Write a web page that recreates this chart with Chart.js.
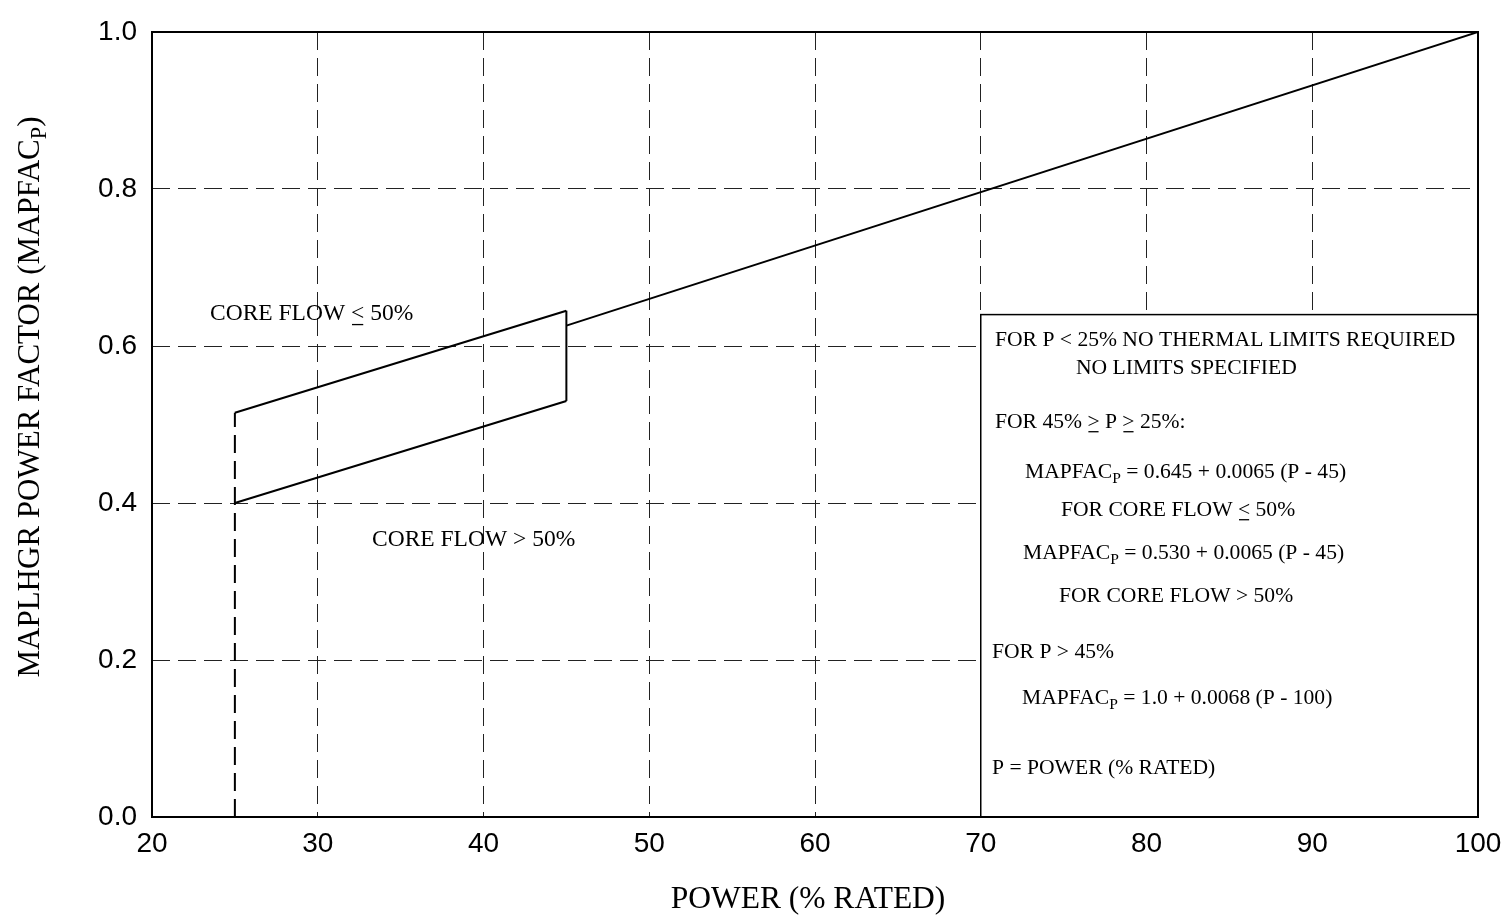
<!DOCTYPE html>
<html>
<head>
<meta charset="utf-8">
<title>MAPLHGR power factor</title>
<script src="https://cdn.jsdelivr.net/npm/chart.js@4.4.1/dist/chart.umd.min.js"></script>
<style>
  html, body { margin: 0; padding: 0; background: #fff; }
  #wrap { width: 1505px; height: 922px; position: relative; }
</style>
</head>
<body>
<div id="wrap"><canvas id="powerChart"></canvas></div>
<script>
// ========= DATA =================== //
const xTicks = [20, 30, 40, 50, 60, 70, 80, 90, 100];
const yTicks = [0.0, 0.2, 0.4, 0.6, 0.8, 1.0];

// core flow <= 50%, 25% .. 45% power
const lowFlowPower = [25, 45];
const lowFlowFactor = [0.515, 0.645];

// core flow > 50%, 25% .. 45% power
const highFlowPower = [25, 45];
const highFlowFactor = [0.40, 0.53];

// P > 45%
const highPower = [45, 100];
const highPowerFactor = [0.626, 1.0];

// step at 45%
const stepPower = [45, 45];
const stepFactor = [0.53, 0.645];

// dashed cutoff at 25%
const cutoffPower = [25, 25];
const cutoffFactor = [0.0, 0.515];

// note box corners
const boxPower = [70, 100];
const boxFactor = [0.0, 0.64];

const SERIF = '"Liberation Serif", "Times New Roman", serif';
const SANS = '"Liberation Sans", Arial, sans-serif';

const pts = (xs, ys) => xs.map((x, i) => ({ x: x, y: ys[i] }));

function lineSet(xs, ys, dash) {
  return {
    data: pts(xs, ys),
    showLine: true,
    borderColor: "#000",
    borderWidth: 2,
    borderDash: dash || [],
    pointRadius: 0,
    fill: false,
  };
}

// ========= TEXT HELPER =================== //
// runs: strings, or {t, sub:true} for subscript, {t, u:true} for underlined
function runWidth(ctx, runs, size) {
  let w = 0;
  runs.forEach((r) => {
    const o = typeof r === "string" ? { t: r } : r;
    ctx.font = (o.sub ? size * 0.72 : size) + "px " + SERIF;
    w += ctx.measureText(o.t).width;
  });
  return w;
}

function drawRuns(ctx, x, y, runs, size, align) {
  let cx = x;
  if (align === "center") cx = x - runWidth(ctx, runs, size) / 2;
  ctx.textBaseline = "middle";
  ctx.textAlign = "left";
  ctx.fillStyle = "#000";
  runs.forEach((r) => {
    const o = typeof r === "string" ? { t: r } : r;
    const s = o.sub ? size * 0.72 : size;
    ctx.font = s + "px " + SERIF;
    const dy = o.sub ? size * 0.3 : 0;
    ctx.fillText(o.t, cx, y + dy);
    const w = ctx.measureText(o.t).width;
    if (o.u) {
      ctx.beginPath();
      ctx.lineWidth = 1.3;
      ctx.strokeStyle = "#000";
      ctx.moveTo(cx + 1, y + size * 0.45);
      ctx.lineTo(cx + w - 1, y + size * 0.45);
      ctx.stroke();
    }
    cx += w;
  });
}

// ========= PLUGIN =================== //
const notesPlugin = {
  id: "notes",
  beforeDatasetsDraw(chart) {
    const ctx = chart.ctx;
    const xs = chart.scales.x;
    const ys = chart.scales.y;
    const x0 = xs.getPixelForValue(boxPower[0]);
    const x1 = xs.getPixelForValue(boxPower[1]);
    const y0 = ys.getPixelForValue(boxFactor[1]);
    const y1 = ys.getPixelForValue(boxFactor[0]);
    ctx.save();
    ctx.fillStyle = "#fff";
    ctx.fillRect(x0, y0, x1 - x0, y1 - y0);
    ctx.strokeStyle = "#000";
    ctx.lineWidth = 1.5;
    ctx.strokeRect(x0, y0, x1 - x0, y1 - y0);
    ctx.restore();
  },
  afterDatasetsDraw(chart) {
    const ctx = chart.ctx;
    const a = chart.chartArea;
    ctx.save();
    // plot frame
    ctx.strokeStyle = "#000";
    ctx.lineWidth = 2;
    ctx.strokeRect(a.left, a.top, a.right - a.left, a.bottom - a.top);

    // region labels
    drawRuns(ctx, 210, 314, ["CORE FLOW ", { t: "<", u: true }, " 50%"], 23.5);
    drawRuns(ctx, 372, 540, ["CORE FLOW > 50%"], 23.5);

    // note box text
    const fs = 21.6;
    drawRuns(ctx, 995, 340, ["FOR P < 25% NO THERMAL LIMITS REQUIRED"], fs);
    drawRuns(ctx, 1076, 368, ["NO LIMITS SPECIFIED"], fs);
    drawRuns(ctx, 995, 422, ["FOR 45% ", { t: ">", u: true }, " P ", { t: ">", u: true }, " 25%:"], fs);
    drawRuns(ctx, 1025, 472, ["MAPFAC", { t: "P", sub: true }, " = 0.645 + 0.0065 (P - 45)"], fs);
    drawRuns(ctx, 1061, 510, ["FOR CORE FLOW ", { t: "<", u: true }, " 50%"], fs);
    drawRuns(ctx, 1023, 553, ["MAPFAC", { t: "P", sub: true }, " = 0.530 + 0.0065 (P - 45)"], fs);
    drawRuns(ctx, 1059, 596, ["FOR CORE FLOW > 50%"], fs);
    drawRuns(ctx, 992, 652, ["FOR P > 45%"], fs);
    drawRuns(ctx, 1022, 698, ["MAPFAC", { t: "P", sub: true }, " = 1.0 + 0.0068 (P - 100)"], fs);
    drawRuns(ctx, 992, 768, ["P = POWER (% RATED)"], fs);

    // axis titles
    drawRuns(ctx, 808, 900, ["POWER (% RATED)"], 31.5, "center");
    ctx.translate(31, 397);
    ctx.rotate(-Math.PI / 2);
    drawRuns(ctx, 0, 0, ["MAPLHGR POWER FACTOR (MAPFAC", { t: "P", sub: true }, ")"], 31, "center");
    ctx.restore();
  },
};

// ========= CHART =================== //
const powerCtx = document.getElementById("powerChart").getContext("2d");

const powerChart = new Chart(powerCtx, {
  type: "scatter",
  data: {
    datasets: [
      lineSet(lowFlowPower, lowFlowFactor),
      lineSet(highFlowPower, highFlowFactor),
      lineSet(highPower, highPowerFactor),
      lineSet(stepPower, stepFactor),
      lineSet(cutoffPower, cutoffFactor, [18, 8]),
    ],
  },
  options: {
    responsive: true,
    maintainAspectRatio: false,
    animation: false,
    layout: { autoPadding: false, padding: { top: 32, right: 27, left: 0, bottom: 0 } },
    plugins: {
      legend: { display: false },
      tooltip: { enabled: false },
    },
    scales: {
      x: {
        type: "linear",
        min: 20,
        max: 100,
        afterBuildTicks: (s) => {
          s.ticks = xTicks.map((v) => ({ value: v }));
        },
        afterFit: (s) => {
          s.height = 105;
          s.paddingLeft = 0;
          s.paddingRight = 0;
        },
        ticks: {
          color: "#000",
          padding: 10,
          maxRotation: 0,
          font: { family: SANS, size: 28 },
          callback: (v) => String(v),
        },
        grid: { color: "#222", lineWidth: 1, drawTicks: false },
        border: { display: false, dash: [18, 8] },
      },
      y: {
        type: "linear",
        min: 0,
        max: 1,
        afterBuildTicks: (s) => {
          s.ticks = yTicks.map((v) => ({ value: v }));
        },
        afterFit: (s) => {
          s.width = 152;
          s.paddingTop = 0;
          s.paddingBottom = 0;
        },
        ticks: {
          color: "#000",
          padding: 15,
          font: { family: SANS, size: 28 },
          callback: (v) => Number(v).toFixed(1),
        },
        grid: { color: "#222", lineWidth: 1, drawTicks: false },
        border: { display: false, dash: [18, 8] },
      },
    },
  },
  plugins: [notesPlugin],
});
</script>
</body>
</html>
